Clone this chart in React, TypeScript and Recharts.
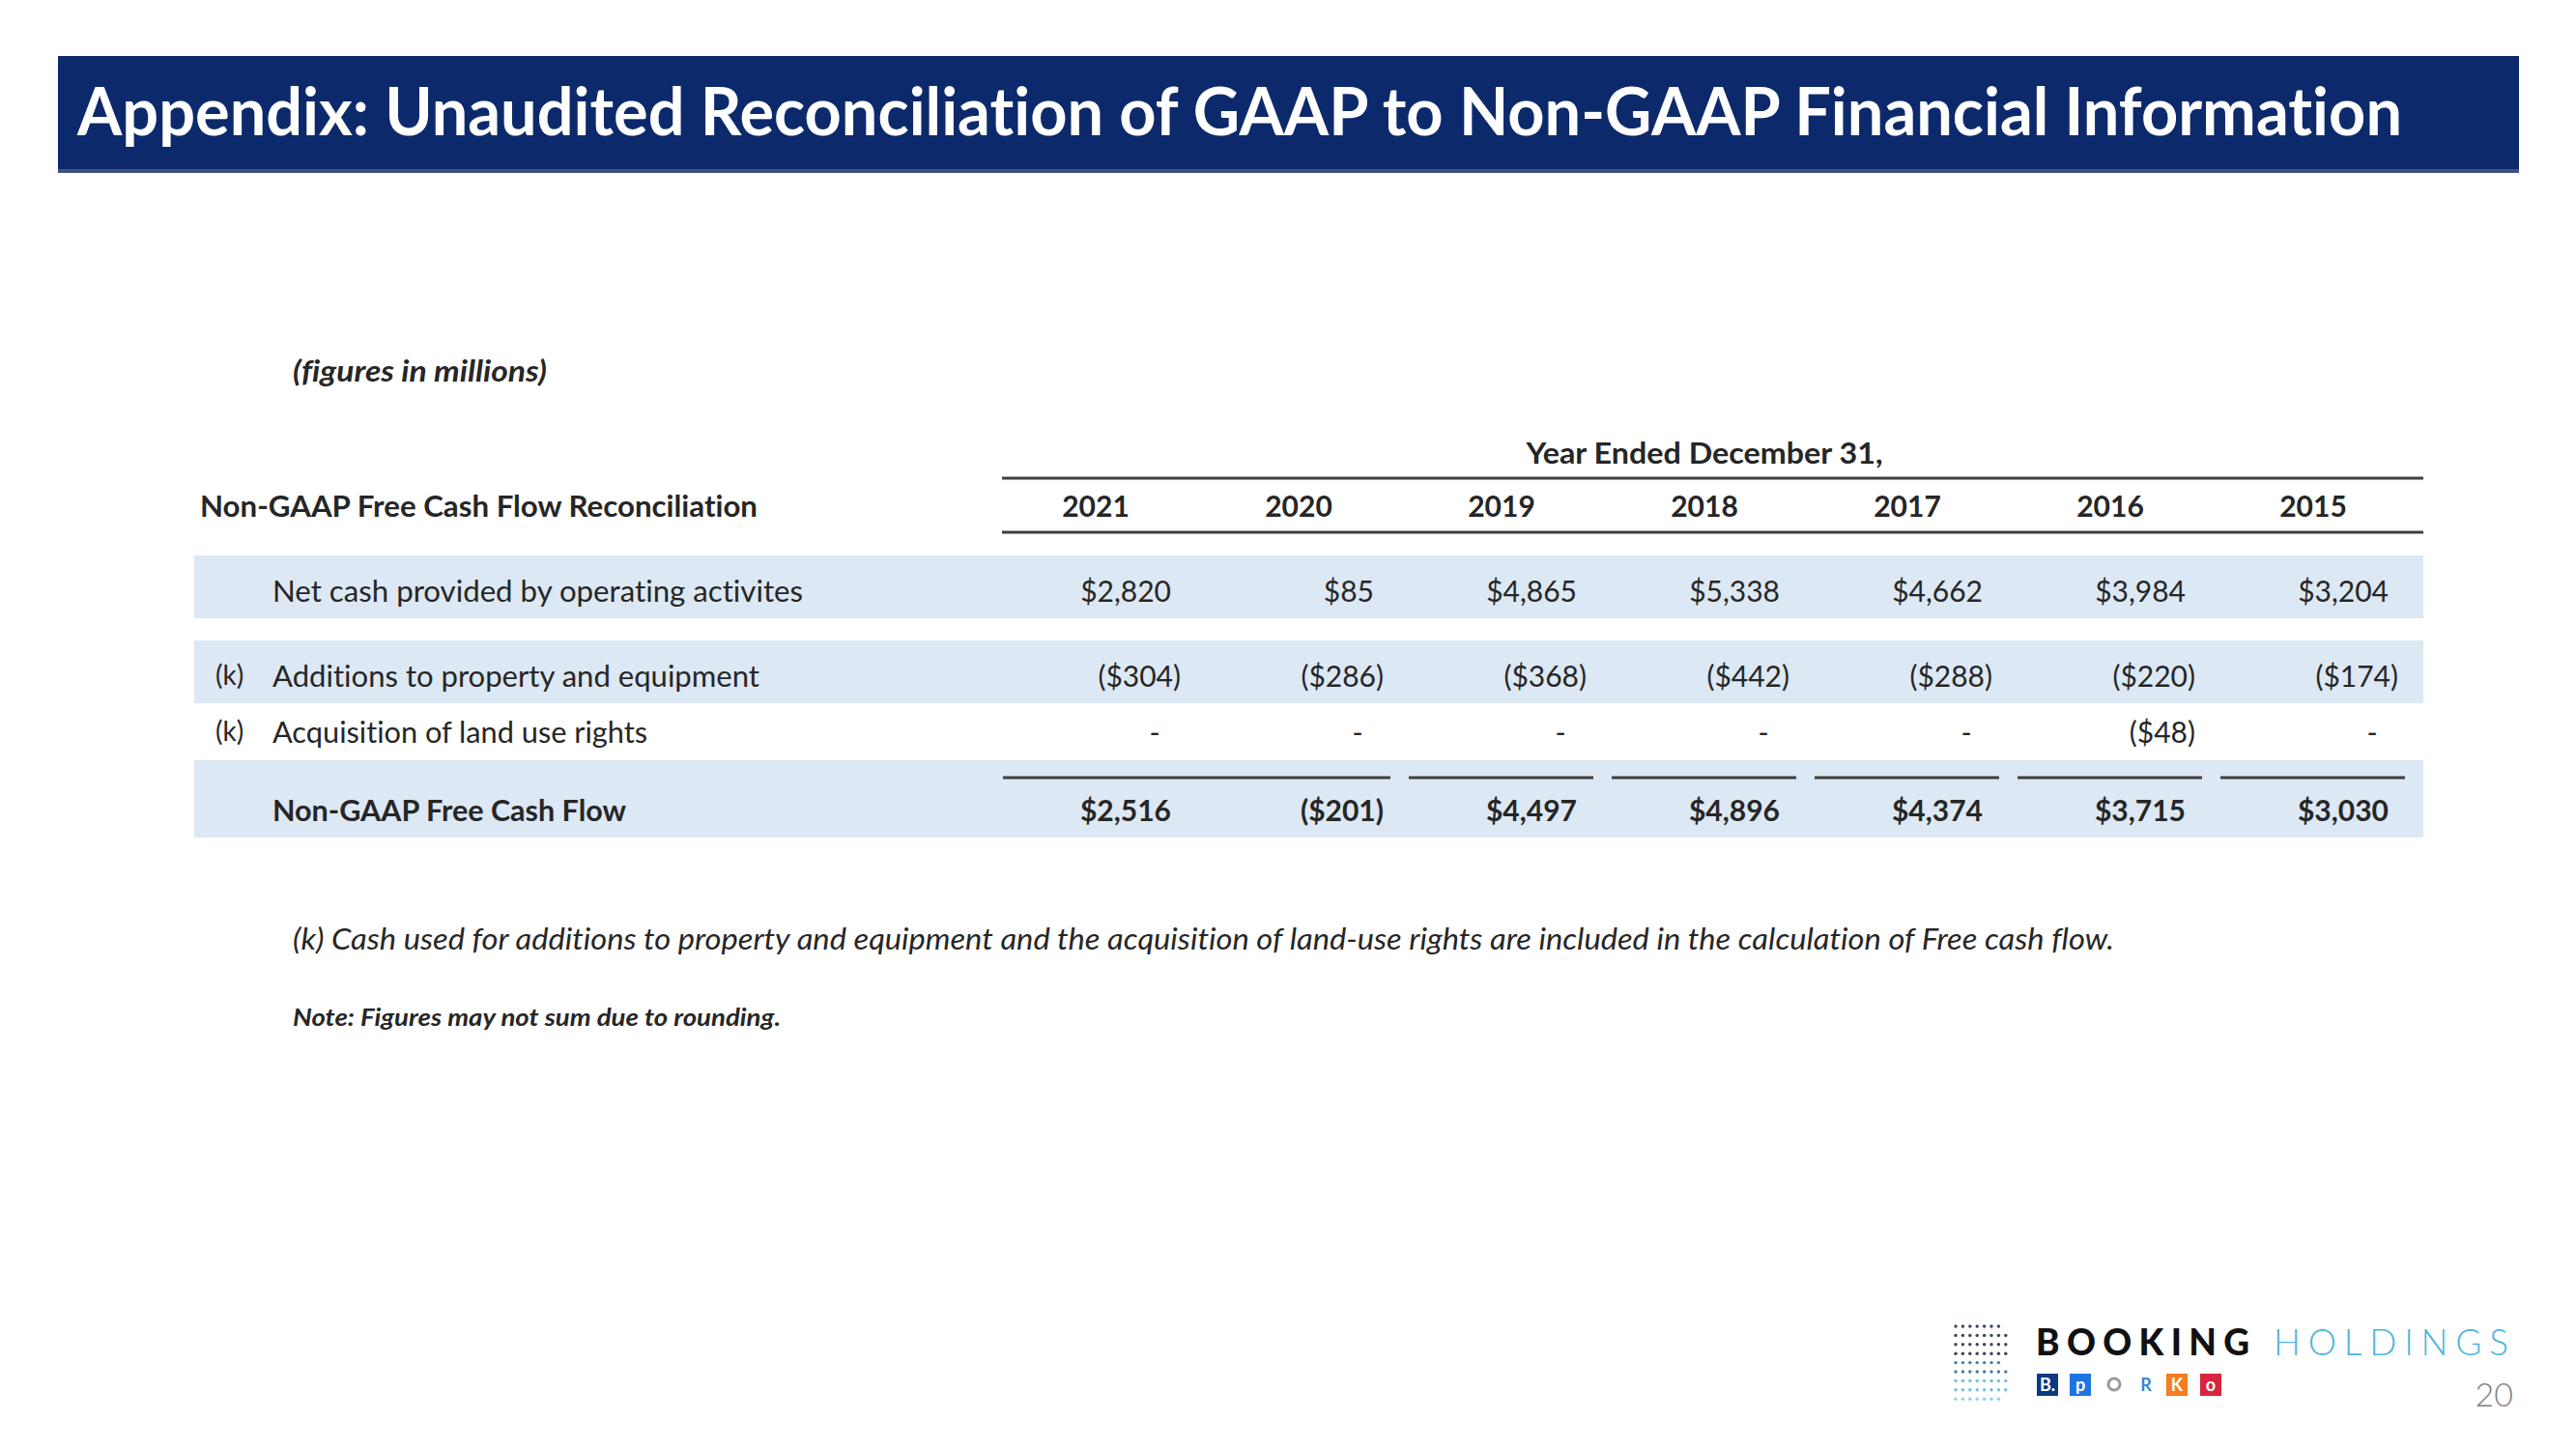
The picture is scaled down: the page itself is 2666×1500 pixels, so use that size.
import React from "react";
import { ComposedChart, Scatter, XAxis, YAxis } from "recharts";

// ---- data (figures in millions) ----
const YEARS = [2021, 2020, 2019, 2018, 2017, 2016, 2015];
const NET_CASH = [2820, 85, 4865, 5338, 4662, 3984, 3204];
const PROPERTY_ADDITIONS = [-304, -286, -368, -442, -288, -220, -174];
const LAND_USE_RIGHTS = [0, 0, 0, 0, 0, -48, 0];
const FREE_CASH_FLOW = [2516, -201, 4497, 4896, 4374, 3715, 3030];

const ROW_LABELS = [
  "Net cash provided by operating activites",
  "Additions to property and equipment",
  "Acquisition of land use rights",
  "Non-GAAP Free Cash Flow",
];
const ROW_NOTES = ["", "(k)", "(k)", ""];
const ROW_VALUES = [NET_CASH, PROPERTY_ADDITIONS, LAND_USE_RIGHTS, FREE_CASH_FLOW];

const TITLE = "Appendix: Unaudited Reconciliation of GAAP to Non-GAAP Financial Information";
const TABLE_TITLE = "Non-GAAP Free Cash Flow Reconciliation";
const PERIOD_LABEL = "Year Ended December 31,";
const UNITS = "(figures in millions)";
const FOOTNOTE =
  "(k) Cash used for additions to property and equipment and the acquisition of land-use rights are included in the calculation of Free cash flow.";
const NOTE = "Note: Figures may not sum due to rounding.";
const PAGE = "20";

// ---- layout ----
const W = 2666;
const H = 1500;
const FONT = "Lato, 'Open Sans', sans-serif";
const INK = "#262626";
const RULE = "#3f3f3f";
const BAND = "#dce8f4";
const NAVY = "#0c2a6b";
const NO_LIGA = { fontVariantLigatures: "none" as const };

const PERIOD_Y = 480;
const HEADER_Y = 535;
const ROW_Y = [623, 711, 769, 850];
const ROW_BANDS: ([number, number] | null)[] = [[575, 640], [663, 728], null, [787, 867]];
const TABLE_LEFT = 201;
const TABLE_RIGHT = 2508;
const RULE_LEFT = 1037;
const LABEL_X = 282;
const NOTE_X = 223;
const LABEL_WIDTHS = [549, 504, 388, 366];

const fmt = (v: number) => {
  if (v === 0) return "-";
  const s = "$" + Math.abs(v).toLocaleString("en-US");
  return v < 0 ? `(${s})` : s;
};

const cells = ROW_VALUES.flatMap((vals, r) =>
  YEARS.map((year, i) => ({ year, y: ROW_Y[r], value: vals[i], total: r === 3, first: i === 0 }))
);
const headers = [
  ...YEARS.map((year) => ({ year, y: HEADER_Y, label: String(year) })),
  { year: 2018, y: PERIOD_Y, label: PERIOD_LABEL, width: 369 },
];

function HeaderCell(props: any) {
  const { cx, cy, payload } = props;
  return (
    <text
      x={cx}
      y={cy}
      textAnchor="middle"
      fontFamily={FONT}
      fontSize={30}
      fontWeight={700}
      fill={INK}
      textLength={payload.width}
      lengthAdjust={payload.width ? "spacingAndGlyphs" : undefined}
    >
      {payload.label}
    </text>
  );
}

function ValueCell(props: any) {
  const { cx, cy, payload } = props;
  const v: number = payload.value;
  const weight = payload.total ? 700 : 400;
  const x = v === 0 ? cx + 61 : v < 0 ? cx + 88 : cx + 78;
  return (
    <g>
      {payload.total && (
        <line x1={cx - 96} x2={cx + (payload.first ? 114 : 95)} y1={cy - 45} y2={cy - 45} stroke={RULE} strokeWidth={3} />
      )}
      <text
        x={x}
        y={cy}
        textAnchor={v === 0 ? "middle" : "end"}
        fontFamily={FONT}
        fontSize={30}
        fontWeight={weight}
        fill={INK}
      >
        {fmt(v)}
      </text>
    </g>
  );
}

function Logo() {
  const dotRows = [7, 8, 8, 8, 7, 8, 8, 8, 7];
  const dotColors = ["#3a4656", "#3a4656", "#3a4656", "#3a4656", "#3d7f9f", "#3d7f9f", "#6cc3e0", "#6cc3e0", "#8fd2e8"];
  const icons = [
    { x: 2108, bg: "#0b3a82", fg: "#ffffff", t: "B." },
    { x: 2142, bg: "#1f74e0", fg: "#ffffff", t: "p" },
    { x: 2177, bg: "#ffffff", fg: "#9a9a9a", t: "o" },
    { x: 2210, bg: "#ffffff", fg: "#3a86d0", t: "R" },
    { x: 2242, bg: "#f57c1f", fg: "#ffffff", t: "K" },
    { x: 2277, bg: "#d8243d", fg: "#ffffff", t: "o" },
  ];
  return (
    <g>
      {dotRows.map((n, r) =>
        Array.from({ length: n }).map((_, c) => (
          <circle key={`${r}-${c}`} cx={2024 + c * 7.4} cy={1373 + r * 9.4} r={1.7} fill={dotColors[r]} />
        ))
      )}
      <text x={2107} y={1403} fontFamily={FONT} fontSize={37} fontWeight={900} fill="#111" textLength={221} lengthAdjust="spacing">
        BOOKING
      </text>
      <text x={2353} y={1403} fontFamily={FONT} fontSize={37} fontWeight={300} fill="#4fb3dd" textLength={243} lengthAdjust="spacing">
        HOLDINGS
      </text>
      {icons.map((ic, i) => (
        <g key={i}>
          <rect x={ic.x} y={1422} width={22} height={23} fill={ic.bg} />
          {ic.bg === "#ffffff" && ic.t === "o" ? (
            <circle cx={ic.x + 11} cy={1433} r={6} fill="none" stroke={ic.fg} strokeWidth={3} />
          ) : (
            <text x={ic.x + 11} y={1440} textAnchor="middle" fontFamily={FONT} fontSize={18} fontWeight={700} fill={ic.fg}>
              {ic.t}
            </text>
          )}
        </g>
      ))}
      <text x={2601} y={1456} textAnchor="end" fontFamily={FONT} fontSize={34} fontWeight={300} fill="#7f7f7f">
        {PAGE}
      </text>
    </g>
  );
}

export default function App() {
  return (
    <div style={{ position: "absolute", left: 0, top: 0, width: W, height: H, background: "#ffffff" }}>
      <svg width={W} height={H} style={{ position: "absolute", left: 0, top: 0, ...NO_LIGA }}>
        <rect x={60} y={58} width={2547} height={121} fill={NAVY} />
        <rect x={60} y={175} width={2547} height={4} fill="#3c5283" />
        <text x={80} y={140} fontFamily={FONT} fontSize={68} fontWeight={700} fill="#ffffff" textLength={2406} lengthAdjust="spacingAndGlyphs">
          {TITLE}
        </text>

        <text x={303} y={395} fontFamily={FONT} fontSize={30} fontStyle="italic" fontWeight={700} fill={INK} textLength={263} lengthAdjust="spacingAndGlyphs">
          {UNITS}
        </text>

        <text x={207} y={HEADER_Y} fontFamily={FONT} fontSize={30} fontWeight={700} fill={INK} textLength={577} lengthAdjust="spacingAndGlyphs">
          {TABLE_TITLE}
        </text>
        <line x1={RULE_LEFT} x2={TABLE_RIGHT} y1={495} y2={495} stroke={RULE} strokeWidth={3} />
        <line x1={RULE_LEFT} x2={TABLE_RIGHT} y1={551} y2={551} stroke={RULE} strokeWidth={3} />

        {ROW_BANDS.map((b, i) =>
          b ? <rect key={i} x={TABLE_LEFT} y={b[0]} width={TABLE_RIGHT - TABLE_LEFT} height={b[1] - b[0]} fill={BAND} /> : null
        )}
        {ROW_LABELS.map((label, r) => (
          <g key={label}>
            {ROW_NOTES[r] && (
              <text x={NOTE_X} y={ROW_Y[r] - 2} fontFamily={FONT} fontSize={28} fill={INK}>
                {ROW_NOTES[r]}
              </text>
            )}
            <text
              x={LABEL_X}
              y={ROW_Y[r]}
              fontFamily={FONT}
              fontSize={30}
              fontWeight={r === 3 ? 700 : 400}
              fill={INK}
              textLength={LABEL_WIDTHS[r]}
              lengthAdjust="spacingAndGlyphs"
            >
              {label}
            </text>
          </g>
        ))}

        <text x={303} y={983} fontFamily={FONT} fontSize={30} fontStyle="italic" fill={INK} textLength={1885} lengthAdjust="spacingAndGlyphs">
          {FOOTNOTE}
        </text>
        <text x={303} y={1062} fontFamily={FONT} fontSize={25} fontStyle="italic" fontWeight={700} fill={INK} textLength={505} lengthAdjust="spacingAndGlyphs">
          {NOTE}
        </text>

        <Logo />
      </svg>

      <div style={{ position: "absolute", left: 0, top: 0, ...NO_LIGA }}>
        <ComposedChart width={W} height={H} margin={{ top: 0, right: W - 2394, bottom: 0, left: 1134 }}>
          <XAxis type="number" dataKey="year" domain={[2015, 2021]} reversed hide />
          <YAxis type="number" dataKey="y" domain={[0, H]} reversed hide />
          <Scatter data={headers} shape={HeaderCell} isAnimationActive={false} />
          <Scatter data={cells} shape={ValueCell} isAnimationActive={false} />
        </ComposedChart>
      </div>
    </div>
  );
}
